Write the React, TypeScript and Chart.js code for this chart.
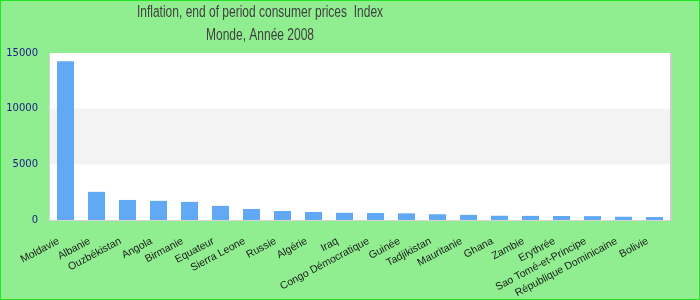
import React, { useEffect, useRef } from "react";
import { Chart, registerables } from "chart.js";

Chart.register(...registerables);

const titleLines = ["Inflation, end of period consumer prices  Index", "Monde, Année 2008"];

const categories = [
  "Moldavie", "Albanie", "Ouzbékistan", "Angola", "Birmanie", "Equateur",
  "Sierra Leone", "Russie", "Algérie", "Iraq", "Congo Démocratique", "Guinée",
  "Tadjikistan", "Mauritanie", "Ghana", "Zambie", "Erythrée",
  "Sao Tomé-et-Principe", "République Dominicaine", "Bolivie",
];

const values = [
  14250, 2530, 1800, 1720, 1630, 1270, 990, 810, 720, 650, 630, 600,
  520, 460, 380, 370, 360, 350, 290, 270,
];

const yTicks = [0, 5000, 10000, 15000];
const bandRange = [5000, 10000];

const backgroundPlugin = {
  id: "bgPlugin",
  beforeDraw(chart: any) {
    const { ctx, chartArea, width, height } = chart;
    const y = chart.scales.y;
    ctx.save();
    ctx.fillStyle = "#90EE90";
    ctx.fillRect(0, 0, width, height);
    ctx.fillStyle = "#ffffff";
    ctx.fillRect(chartArea.left, chartArea.top, chartArea.right - chartArea.left, chartArea.bottom - chartArea.top);
    const yTop = y.getPixelForValue(bandRange[1]);
    const yBot = y.getPixelForValue(bandRange[0]);
    ctx.fillStyle = "#f3f3f3";
    ctx.fillRect(chartArea.left, yTop, chartArea.right - chartArea.left, yBot - yTop);
    ctx.restore();
  },
  afterDraw(chart: any) {
    const { ctx, chartArea, width, height } = chart;
    ctx.save();
    ctx.strokeStyle = "#d4d4d4";
    ctx.lineWidth = 1;
    ctx.beginPath();
    ctx.moveTo(chartArea.left - 0.5, chartArea.top);
    ctx.lineTo(chartArea.left - 0.5, chartArea.bottom + 0.5);
    ctx.lineTo(chartArea.right + 0.5, chartArea.bottom + 0.5);
    ctx.stroke();
    ctx.lineWidth = 2;
    ctx.strokeStyle = "#cccccc";
    ctx.beginPath();
    ctx.moveTo(chartArea.right + 1, chartArea.top);
    ctx.lineTo(chartArea.right + 1, chartArea.bottom + 1);
    ctx.stroke();
    // title (condensed)
    ctx.fillStyle = "#404040";
    ctx.font = "16px 'Liberation Sans', Arial, sans-serif";
    ctx.textAlign = "center";
    ctx.textBaseline = "middle";
    const cx = 260;
    const lineY = [13, 36];
    titleLines.forEach((line, i) => {
      ctx.save();
      ctx.translate(cx, lineY[i]);
      ctx.scale(0.75, 1.02);
      ctx.fillText(line, 0, 0);
      ctx.restore();
    });
    ctx.strokeStyle = "#22e622";
    ctx.lineWidth = 2;
    ctx.strokeRect(0, 0, width, height);
    ctx.restore();
  },
};

export default function App() {
  const ref = useRef<HTMLCanvasElement>(null);
  useEffect(() => {
    if (!ref.current) return;
    const chart = new Chart(ref.current, {
      type: "bar",
      data: {
        labels: categories,
        datasets: [
          {
            data: values,
            backgroundColor: "#62A9F5",
            borderWidth: 0,
            barPercentage: 0.55,
            categoryPercentage: 1,
          },
        ],
      },
      options: {
        responsive: false,
        animation: false,
        layout: { padding: { left: 0, right: 30, top: 53, bottom: 0 } },
        plugins: {
          legend: { display: false },
          tooltip: { enabled: false },
          title: { display: false },
        },
        scales: {
          x: {
            grid: { display: false, drawTicks: false },
            border: { display: false },
            ticks: {
              autoSkip: false,
              minRotation: 28,
              maxRotation: 28,
              padding: 15,
              labelOffset: -7,
              color: "#1a1a1a",
              font: { family: "'Liberation Sans', Arial, sans-serif", size: 10.5 },
            },
            afterFit(scale: any) {
              scale.height = 80;
            },
          },
          y: {
            min: 0,
            max: 15000,
            grid: { display: false, drawTicks: false },
            border: { display: false },
            afterBuildTicks(scale: any) {
              scale.ticks = yTicks.map((v) => ({ value: v }));
            },
            ticks: {
              padding: 12,
              color: "#1a1a8a",
              font: { family: "'DejaVu Sans', sans-serif", size: 10 },
              callback: (v: any) => String(v),
            },
            afterFit(scale: any) {
              scale.width = 50;
            },
          },
        },
      },
      plugins: [backgroundPlugin],
    });
    return () => chart.destroy();
  }, []);
  return (
    <div style={{ position: "absolute", left: 0, top: 0, width: 700, height: 300 }}>
      <canvas ref={ref} width={700} height={300} />
    </div>
  );
}
